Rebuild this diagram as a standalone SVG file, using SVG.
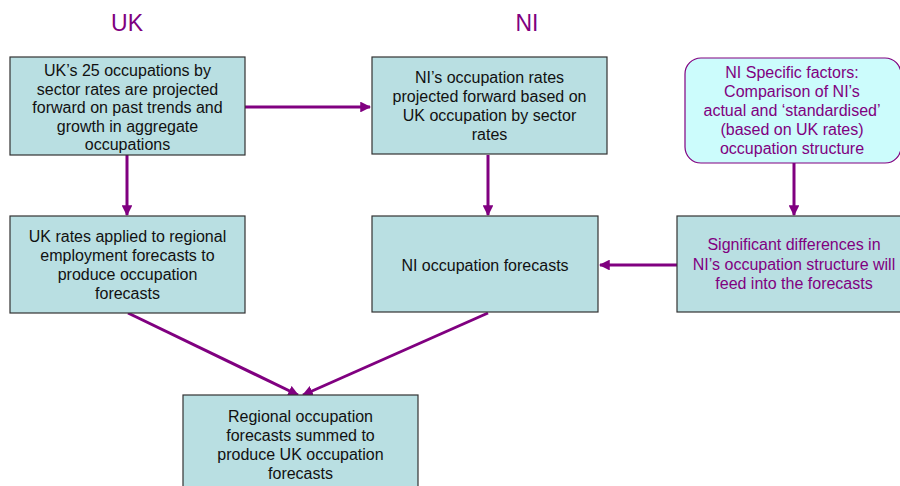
<svg xmlns="http://www.w3.org/2000/svg" width="900" height="486" viewBox="0 0 900 486">
<defs>
<marker id="ah" viewBox="0 0 10 10" refX="9" refY="5" markerWidth="3.6" markerHeight="3.6" orient="auto" markerUnits="strokeWidth">
<path d="M0,0 L10,5 L0,10 z" fill="#800080"/>
</marker>
<style>
.box{fill:#b9dfe2;stroke:#333;stroke-width:1.2}
.rbox{fill:#ccfcfc;stroke:#800080;stroke-width:1.2}
.t{font-family:"Liberation Sans",Arial,sans-serif;font-size:16px;fill:#111;text-anchor:middle}
.p{fill:#800080}
.hd{font-family:"Liberation Sans",Arial,sans-serif;font-size:23px;fill:#800080;text-anchor:middle}
.c{stroke:#800080;stroke-width:3;fill:none;marker-end:url(#ah)}
</style>
</defs>
<rect width="900" height="486" fill="#fff"/>
<text class="hd" x="127" y="31">UK</text>
<text class="hd" x="527" y="31">NI</text>
<g id="connectors">
<line class="c" x1="245" y1="107" x2="370" y2="107"/>
<line class="c" x1="127" y1="155" x2="127" y2="215"/>
<line class="c" x1="488" y1="155" x2="488" y2="215"/>
<line class="c" x1="794" y1="163" x2="794" y2="215"/>
<line class="c" x1="677" y1="265" x2="600" y2="265"/>
<line class="c" x1="128" y1="313" x2="298" y2="395"/>
<line class="c" x1="488" y1="313" x2="303" y2="395"/>
</g>
<g id="uk-project">
<rect class="box" x="10" y="57" width="235" height="98"/>
<text class="t" x="127.5" y="76">UK’s 25 occupations by</text>
<text class="t" x="127.5" y="94.5">sector rates are projected</text>
<text class="t" x="127.5" y="113">forward on past trends and</text>
<text class="t" x="127.5" y="131.5">growth in aggregate</text>
<text class="t" x="127.5" y="150">occupations</text>
</g>
<g id="ni-project">
<rect class="box" x="372" y="57" width="235" height="97"/>
<text class="t" x="489.5" y="83">NI’s occupation rates</text>
<text class="t" x="489.5" y="102">projected forward based on</text>
<text class="t" x="489.5" y="121">UK occupation by sector</text>
<text class="t" x="489.5" y="140">rates</text>
</g>
<g id="ni-factors">
<rect class="rbox" x="685" y="58" width="216" height="105" rx="16"/>
<text class="t p" x="792" y="78">NI Specific factors:</text>
<text class="t p" x="792" y="97">Comparison of NI’s</text>
<text class="t p" x="792" y="116">actual and ‘standardised’</text>
<text class="t p" x="792" y="135">(based on UK rates)</text>
<text class="t p" x="792" y="154">occupation structure</text>
</g>
<g id="uk-regional">
<rect class="box" x="10" y="216" width="235" height="97"/>
<text class="t" x="127.5" y="242">UK rates applied to regional</text>
<text class="t" x="127.5" y="261">employment forecasts to</text>
<text class="t" x="127.5" y="280">produce occupation</text>
<text class="t" x="127.5" y="299">forecasts</text>
</g>
<g id="ni-forecasts">
<rect class="box" x="372" y="216" width="226" height="96"/>
<text class="t" x="485" y="271">NI occupation forecasts</text>
</g>
<g id="ni-differences">
<rect class="box" x="677" y="216" width="230" height="96"/>
<text class="t p" x="794" y="250">Significant differences in</text>
<text class="t p" x="794" y="269.5">NI’s occupation structure will</text>
<text class="t p" x="794" y="289">feed into the forecasts</text>
</g>
<g id="uk-summed">
<rect class="box" x="183" y="395" width="235" height="100"/>
<text class="t" x="300.5" y="422">Regional occupation</text>
<text class="t" x="300.5" y="441">forecasts summed to</text>
<text class="t" x="300.5" y="460">produce UK occupation</text>
<text class="t" x="300.5" y="479">forecasts</text>
</g>
</svg>
